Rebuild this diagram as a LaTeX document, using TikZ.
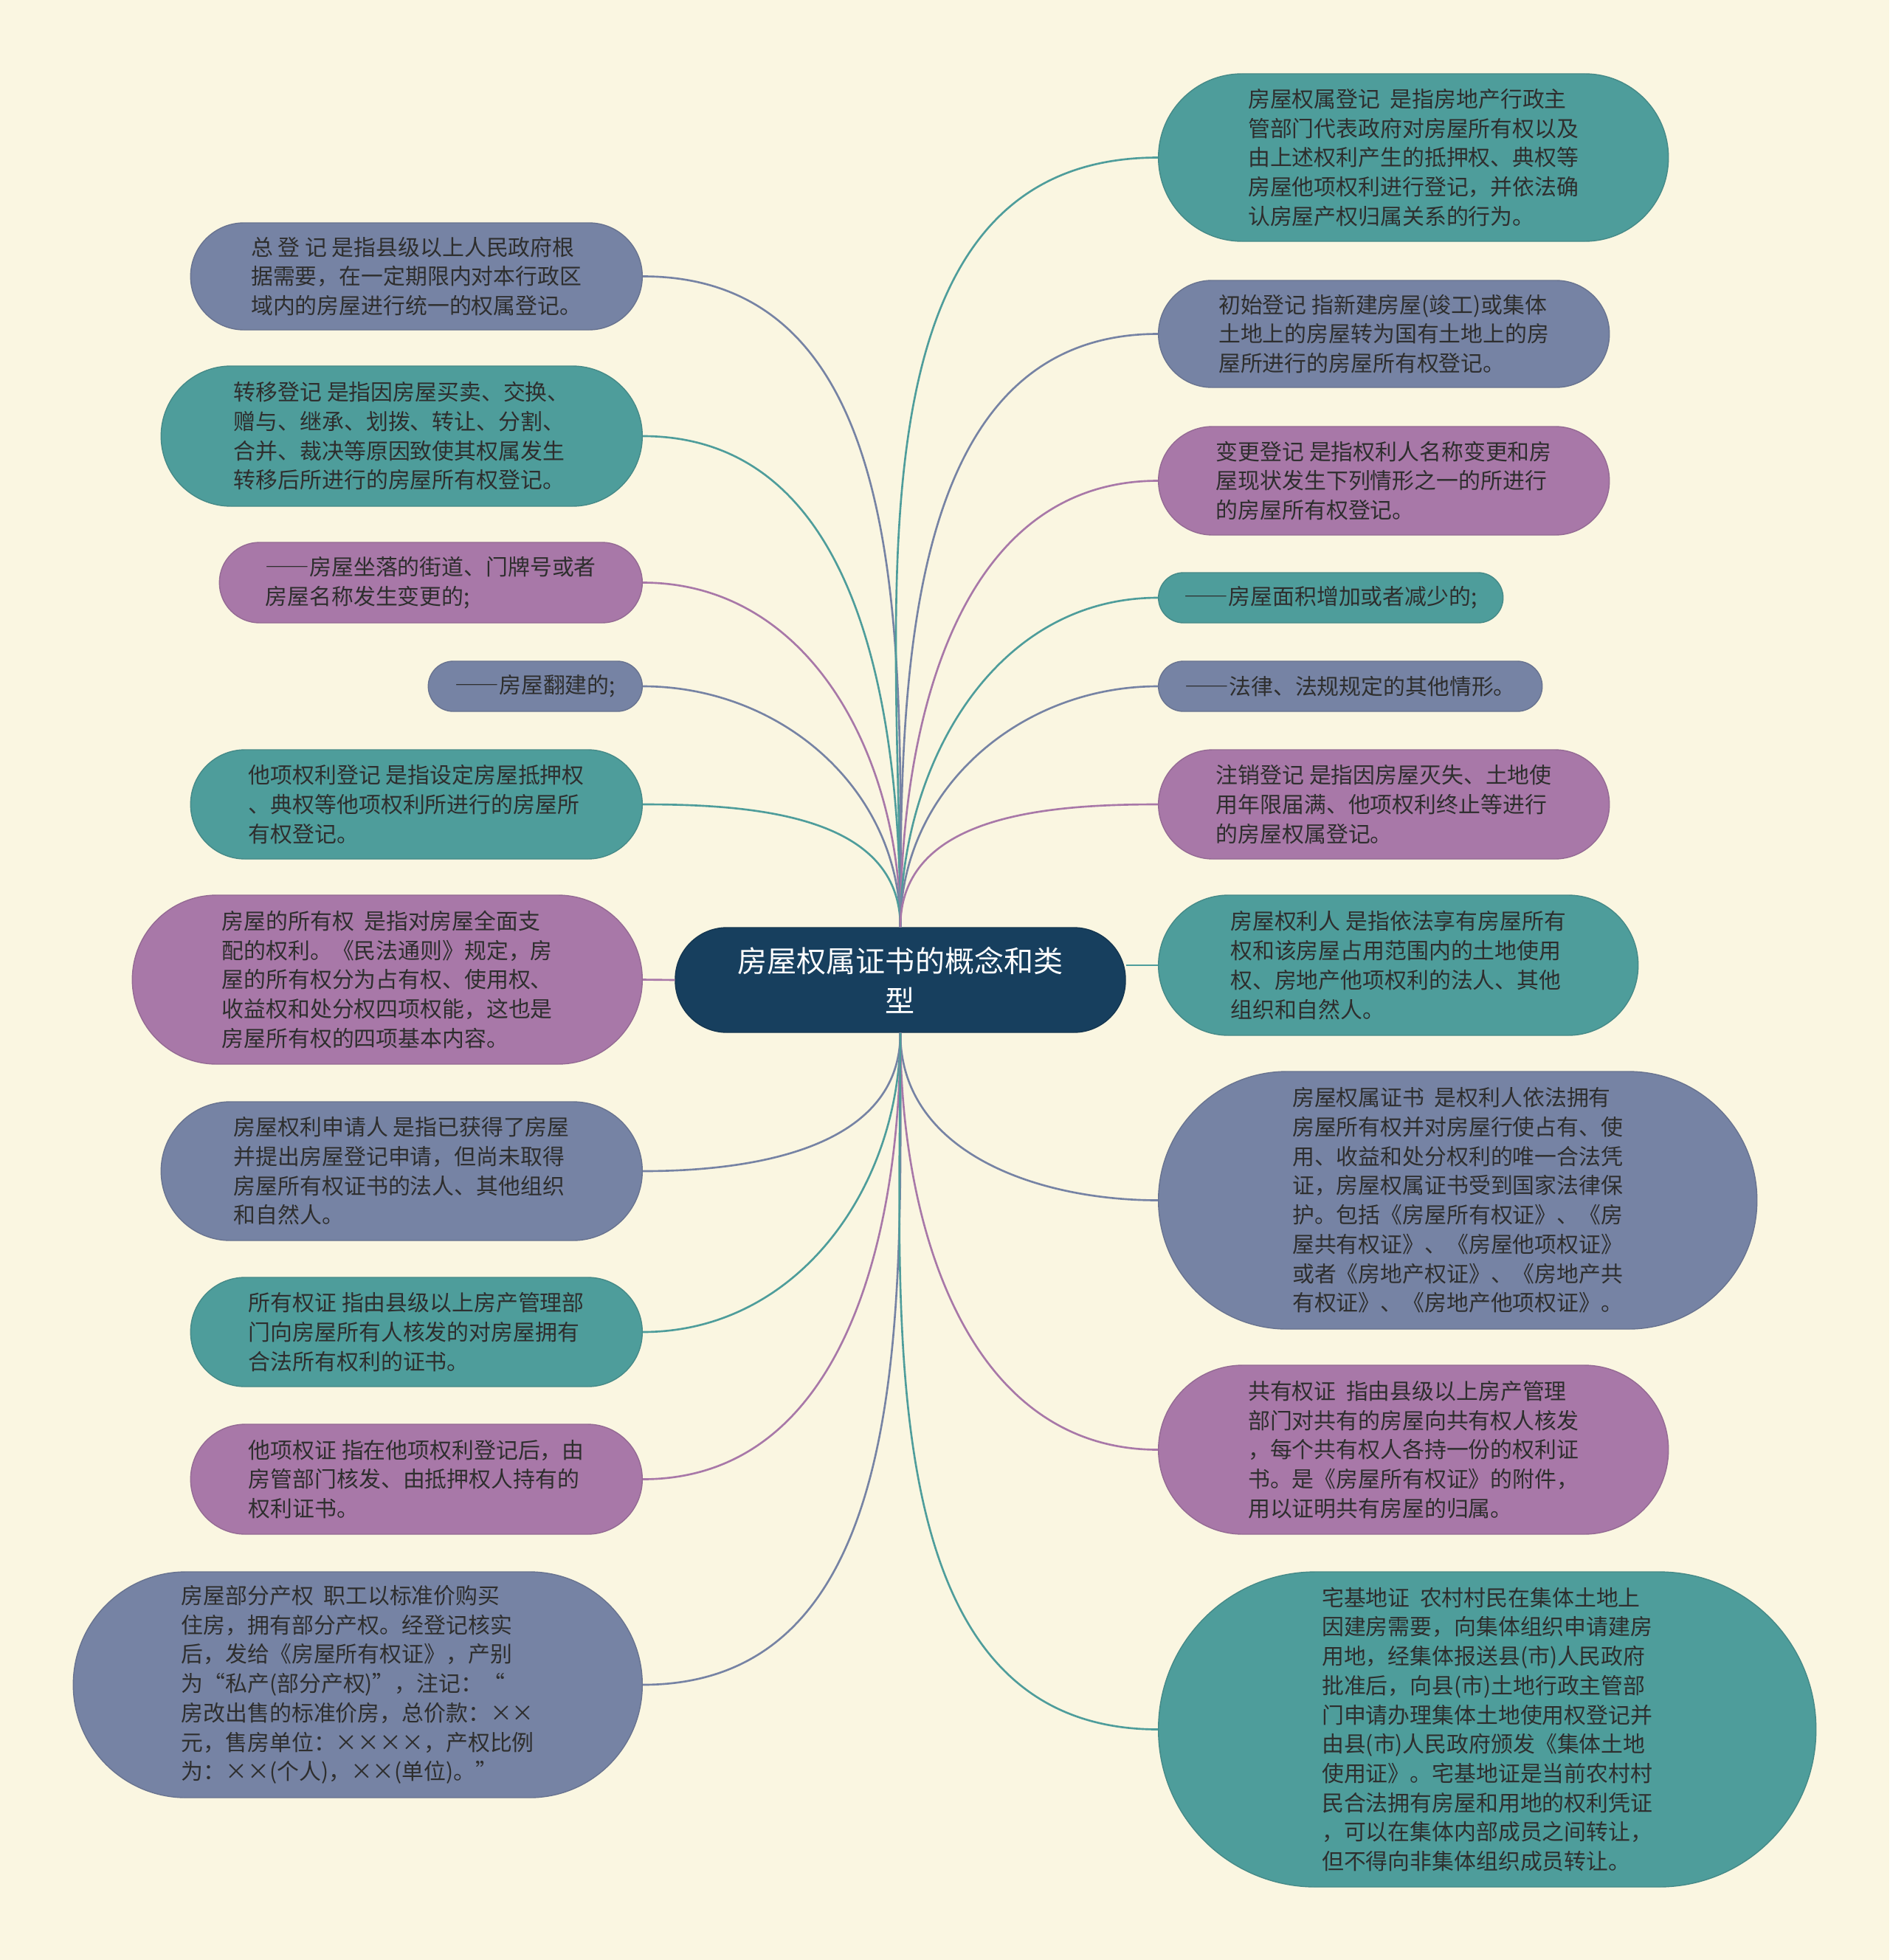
\documentclass[tikz,border=0pt]{standalone}
\usepackage{fontspec}
\setmainfont{Noto Sans CJK SC}
\newcommand{\longdash}{{\addfontfeatures{CharacterWidth=Full}——}}
\definecolor{paper}{HTML}{FAF6E1}
\definecolor{navy}{HTML}{173F5E}
\definecolor{tealbox}{HTML}{4E9D9B}
\definecolor{slatebox}{HTML}{7683A4}
\definecolor{plumbox}{HTML}{A878A8}
\definecolor{ink}{HTML}{2E2E2E}
\begin{document}
\begin{tikzpicture}[
  every node/.style={font=\fontsize{8.5}{11.3}\selectfont, text=ink},
  leaf/.style 2 args={fill=#1, draw=#1!88!black, line width=0.4pt, minimum height=#2,
    rounded corners=0.499*#2, align=left, inner sep=0pt},
  link/.style={line width=0.75pt}
]
  % paper
  \fill[paper] (0,0) rectangle (25.6,-26.56);
  \useasboundingbox (0,0) rectangle (25.6,-26.56);

  % root
  \node[fill=navy, draw=navy!85!black, minimum width=6.1cm, minimum height=1.42cm, rounded corners=0.7cm,
    text=white, font=\fontsize{11.4}{15.4}\selectfont, align=center] (root) at (12.2,-13.28)
    {房屋权属证书的概念和类\\型};

  % left branches
  \node[leaf={slatebox}{1.45cm}, minimum width=6.12cm, anchor=east] (zongdj) at (8.71,-3.745)
    {总 登 记 是指县级以上人民政府根\\据需要，在一定期限内对本行政区\\域内的房屋进行统一的权属登记。};
  \node[leaf={tealbox}{1.9cm}, minimum width=6.52cm, anchor=east] (zhuanyi) at (8.71,-5.91)
    {转移登记 是指因房屋买卖、交换、\\赠与、继承、划拨、转让、分割、\\合并、裁决等原因致使其权属发生\\转移后所进行的房屋所有权登记。};
  \node[leaf={plumbox}{1.09cm}, minimum width=5.73cm, anchor=east] (zuoluo) at (8.71,-7.895)
    {\longdash 房屋坐落的街道、门牌号或者\\房屋名称发生变更的;};
  \node[leaf={slatebox}{0.68cm}, minimum width=2.9cm, anchor=east] (fanjian) at (8.71,-9.3)
    {\longdash 房屋翻建的;};
  \node[leaf={tealbox}{1.48cm}, minimum width=6.12cm, anchor=east] (taxiang) at (8.71,-10.9)
    {他项权利登记 是指设定房屋抵押权\\、典权等他项权利所进行的房屋所\\有权登记。};
  \node[leaf={plumbox}{2.29cm}, minimum width=6.91cm, anchor=east] (suoyou) at (8.71,-13.275)
    {房屋的所有权~~是指对房屋全面支\\配的权利。《民法通则》规定，房\\屋的所有权分为占有权、使用权、\\收益权和处分权四项权能，这也是\\房屋所有权的四项基本内容。};
  \node[leaf={slatebox}{1.88cm}, minimum width=6.52cm, anchor=east] (shenqing) at (8.71,-15.87)
    {房屋权利申请人 是指已获得了房屋\\并提出房屋登记申请，但尚未取得\\房屋所有权证书的法人、其他组织\\和自然人。};
  \node[leaf={tealbox}{1.48cm}, minimum width=6.12cm, anchor=east] (syqz) at (8.71,-18.05)
    {所有权证 指由县级以上房产管理部\\门向房屋所有人核发的对房屋拥有\\合法所有权利的证书。};
  \node[leaf={plumbox}{1.49cm}, minimum width=6.12cm, anchor=east] (txqz) at (8.71,-20.045)
    {他项权证 指在他项权利登记后，由\\房管部门核发、由抵押权人持有的\\权利证书。};
  \node[leaf={slatebox}{3.06cm}, minimum width=7.71cm, anchor=east] (bufen) at (8.71,-22.83)
    {房屋部分产权~~职工以标准价购买\\住房，拥有部分产权。经登记核实\\后，发给《房屋所有权证》，产别\\为“私产(部分产权)”，注记：“\\房改出售的标准价房，总价款：××\\元，售房单位：××××，产权比例\\为：××(个人)，××(单位)。”};

  % right branches
  \node[leaf={tealbox}{2.27cm}, minimum width=6.91cm, anchor=west] (qsdj) at (15.69,-2.135)
    {房屋权属登记~~是指房地产行政主\\管部门代表政府对房屋所有权以及\\由上述权利产生的抵押权、典权等\\房屋他项权利进行登记，并依法确\\认房屋产权归属关系的行为。};
  \node[leaf={slatebox}{1.45cm}, minimum width=6.11cm, anchor=west] (chushi) at (15.69,-4.525)
    {初始登记 指新建房屋(竣工)或集体\\土地上的房屋转为国有土地上的房\\屋所进行的房屋所有权登记。};
  \node[leaf={plumbox}{1.47cm}, minimum width=6.11cm, anchor=west] (biangeng) at (15.69,-6.515)
    {变更登记 是指权利人名称变更和房\\屋现状发生下列情形之一的所进行\\的房屋所有权登记。};
  \node[leaf={tealbox}{0.68cm}, minimum width=4.67cm, anchor=west] (mianji) at (15.69,-8.1)
    {\longdash 房屋面积增加或者减少的;};
  \node[leaf={slatebox}{0.68cm}, minimum width=5.2cm, anchor=west] (qita) at (15.69,-9.3)
    {\longdash 法律、法规规定的其他情形。};
  \node[leaf={plumbox}{1.48cm}, minimum width=6.11cm, anchor=west] (zhuxiao) at (15.69,-10.9)
    {注销登记 是指因房屋灭失、土地使\\用年限届满、他项权利终止等进行\\的房屋权属登记。};
  \node[leaf={tealbox}{1.9cm}, minimum width=6.5cm, anchor=west] (qlr) at (15.69,-13.08)
    {房屋权利人 是指依法享有房屋所有\\权和该房屋占用范围内的土地使用\\权、房地产他项权利的法人、其他\\组织和自然人。};
  \node[leaf={slatebox}{3.49cm}, minimum width=8.11cm, anchor=west] (qszs) at (15.69,-16.265)
    {房屋权属证书~~是权利人依法拥有\\房屋所有权并对房屋行使占有、使\\用、收益和处分权利的唯一合法凭\\证，房屋权属证书受到国家法律保\\护。包括《房屋所有权证》、《房\\屋共有权证》、《房屋他项权证》\\或者《房地产权证》、《房地产共\\有权证》、《房地产他项权证》。};
  \node[leaf={plumbox}{2.29cm}, minimum width=6.91cm, anchor=west] (gyqz) at (15.69,-19.645)
    {共有权证~~指由县级以上房产管理\\部门对共有的房屋向共有权人核发\\，每个共有权人各持一份的权利证\\书。是《房屋所有权证》的附件，\\用以证明共有房屋的归属。};
  \node[leaf={tealbox}{4.27cm}, minimum width=8.91cm, anchor=west] (zjd) at (15.69,-23.435)
    {宅基地证~~农村村民在集体土地上\\因建房需要，向集体组织申请建房\\用地，经集体报送县(市)人民政府\\批准后，向县(市)土地行政主管部\\门申请办理集体土地使用权登记并\\由县(市)人民政府颁发《集体土地\\使用证》。宅基地证是当前农村村\\民合法拥有房屋和用地的权利凭证\\，可以在集体内部成员之间转让，\\但不得向非集体组织成员转让。};

  % links, left
  \foreach \n/\c in {zongdj/slatebox, zhuanyi/tealbox, zuoluo/plumbox, fanjian/slatebox, taxiang/tealbox}
    \draw[link, \c] (root.north) to[out=90, in=0] (\n.east);
  \draw[link, plumbox] (root.west) -- (suoyou.east);
  \foreach \n/\c in {shenqing/slatebox, syqz/tealbox, txqz/plumbox, bufen/slatebox}
    \draw[link, \c] (root.south) to[out=-90, in=0] (\n.east);

  % links, right
  \foreach \n/\c in {qsdj/tealbox, chushi/slatebox, biangeng/plumbox, mianji/tealbox, qita/slatebox, zhuxiao/plumbox}
    \draw[link, \c] (root.north) to[out=90, in=180] (\n.west);
  \draw[link, tealbox] (qlr.west -| root.east) -- (qlr.west);
  \foreach \n/\c in {qszs/slatebox, gyqz/plumbox, zjd/tealbox}
    \draw[link, \c] (root.south) to[out=-90, in=180] (\n.west);
\end{tikzpicture}
\end{document}
